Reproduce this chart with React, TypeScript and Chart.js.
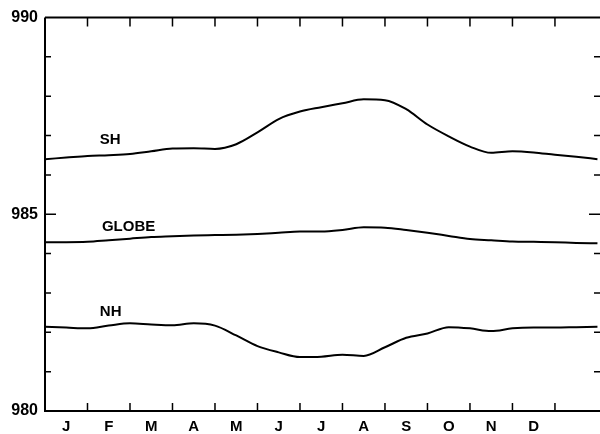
import React, { useEffect, useRef } from 'react';
import { Chart, registerables } from 'chart.js';

Chart.register(...registerables);

// Month labels (centred in each month interval)
const MONTHS = ['J', 'F', 'M', 'A', 'M', 'J', 'J', 'A', 'S', 'O', 'N', 'D'];
// x positions of the samples, in months from the start of January
const MONTH_POS = [0, 0.5, 1, 1.5, 2, 2.5, 3, 3.5, 4, 4.5, 5, 5.5, 6, 6.5, 7, 7.5, 8, 8.5, 9, 9.5, 10, 10.5, 11, 11.5, 12, 12.5, 13];

const SH = [986.4, 986.44, 986.48, 986.5, 986.53, 986.6, 986.67, 986.68, 986.66, 986.78, 987.08, 987.42, 987.61, 987.72, 987.82, 987.92, 987.9, 987.67, 987.28, 986.98, 986.72, 986.56, 986.6, 986.57, 986.51, 986.46, 986.4];
const GLOBE = [984.29, 984.29, 984.3, 984.34, 984.38, 984.42, 984.44, 984.46, 984.47, 984.48, 984.5, 984.53, 984.56, 984.56, 984.6, 984.67, 984.66, 984.6, 984.53, 984.45, 984.37, 984.34, 984.31, 984.3, 984.29, 984.27, 984.26];
const NH = [982.14, 982.12, 982.1, 982.17, 982.23, 982.2, 982.18, 982.23, 982.17, 981.92, 981.65, 981.49, 981.37, 981.38, 981.43, 981.4, 981.62, 981.86, 981.97, 982.13, 982.1, 982.03, 982.1, 982.12, 982.12, 982.13, 982.14];

const SERIES_NAMES = ['SH', 'GLOBE', 'NH'];
// label anchors (month, value) for the series names
const NAME_MONTH = [1.29, 1.34, 1.29];
const NAME_VALUE = [986.89, 984.68, 982.52];

const Y_MIN = 980;
const Y_MAX = 990;
const Y_TICKS = [980, 985, 990];
const X_MAX = 13.06;

const FONT = 'Liberation Sans, Arial, Helvetica, sans-serif';

const framePlugin = {
  id: 'frame',
  afterDraw(chart: any) {
    const { ctx, chartArea, scales } = chart;
    const { left, right, top, bottom } = chartArea;
    const x = scales.x;
    const y = scales.y;
    ctx.save();
    ctx.strokeStyle = '#000';
    ctx.lineWidth = 2;
    ctx.beginPath();
    ctx.moveTo(left, top);
    ctx.lineTo(left, bottom);
    ctx.lineTo(right + 2, bottom);
    ctx.moveTo(left, top);
    ctx.lineTo(right + 2, top);
    ctx.stroke();

    ctx.lineWidth = 1.5;
    ctx.beginPath();
    for (let v = Y_MIN + 1; v < Y_MAX; v++) {
      const py = y.getPixelForValue(v);
      const len = Y_TICKS.includes(v) ? 11 : 6;
      ctx.moveTo(left, py);
      ctx.lineTo(left + len, py);
      ctx.moveTo(right, py);
      ctx.lineTo(right - len, py);
    }
    for (let m = 1; m <= MONTHS.length; m++) {
      const px = x.getPixelForValue(m);
      ctx.moveTo(px, top);
      ctx.lineTo(px, top + 9);
      ctx.moveTo(px, bottom);
      ctx.lineTo(px, bottom - 8);
    }
    ctx.stroke();

    ctx.fillStyle = '#000';
    ctx.font = `bold 15px ${FONT}`;
    ctx.textAlign = 'left';
    ctx.textBaseline = 'middle';
    SERIES_NAMES.forEach((name, i) => {
      ctx.fillText(name, x.getPixelForValue(NAME_MONTH[i]), y.getPixelForValue(NAME_VALUE[i]));
    });
    ctx.restore();
  },
};

export default function App() {
  const ref = useRef<HTMLCanvasElement | null>(null);

  useEffect(() => {
    if (!ref.current) return;
    const mk = (vals: number[]) => MONTH_POS.map((m, i) => ({ x: m, y: vals[i] }));
    const ds = (label: string, vals: number[]) => ({
      label,
      data: mk(vals),
      borderColor: '#000',
      borderWidth: 2,
      pointRadius: 0,
      fill: false,
      cubicInterpolationMode: 'monotone' as const,
    });
    const chart = new Chart(ref.current, {
      type: 'line',
      data: {
        datasets: [ds('SH', SH), ds('GLOBE', GLOBE), ds('NH', NH)],
      },
      options: {
        animation: false,
        responsive: false,
        devicePixelRatio: 1,
        layout: { padding: { top: 17.5, right: 0, left: 0, bottom: 0 } },
        plugins: {
          legend: { display: false },
          tooltip: { enabled: false },
        },
        scales: {
          x: {
            type: 'linear',
            min: 0,
            max: X_MAX,
            grid: { display: false, drawTicks: false },
            border: { display: false },
            afterBuildTicks: (s: any) => {
              s.ticks = MONTHS.map((_, i) => ({ value: i + 0.5 }));
            },
            afterFit: (s: any) => {
              s.height = 23;
            },
            ticks: {
              autoSkip: false,
              maxRotation: 0,
              padding: 7,
              color: '#000',
              font: { family: FONT, size: 15, weight: 'bold' },
              callback: (_v: any, i: number) => MONTHS[i],
            },
          },
          y: {
            type: 'linear',
            min: Y_MIN,
            max: Y_MAX,
            grid: { display: false, drawTicks: false },
            border: { display: false },
            afterBuildTicks: (s: any) => {
              s.ticks = Y_TICKS.map((v) => ({ value: v }));
            },
            afterFit: (s: any) => {
              s.width = 45;
            },
            ticks: {
              padding: 7,
              color: '#000',
              font: { family: FONT, size: 16, weight: 'bold' },
              callback: (v: any) => String(v),
            },
          },
        },
      },
      plugins: [framePlugin],
    });
    return () => chart.destroy();
  }, []);

  return (
    <canvas
      ref={ref}
      width={600}
      height={434}
      style={{ position: 'absolute', left: 0, top: 0, width: 600, height: 434 }}
    />
  );
}
